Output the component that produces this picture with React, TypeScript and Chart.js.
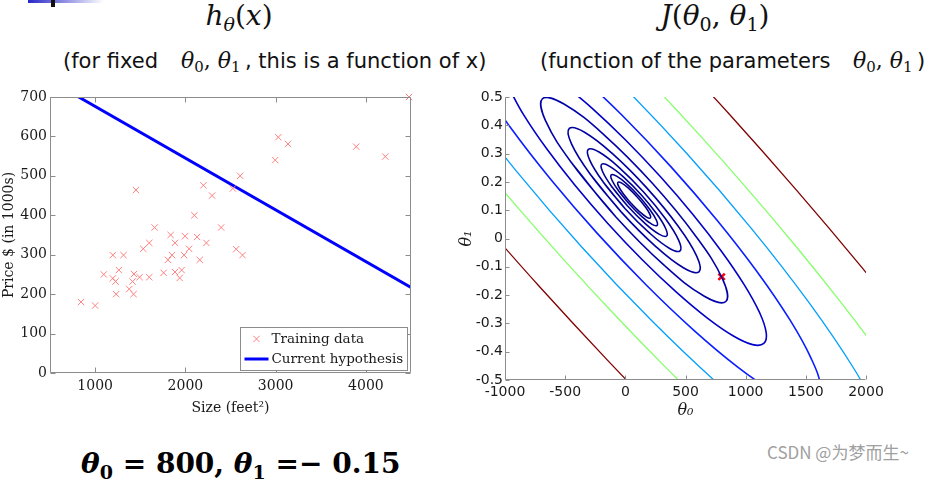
import React, { useEffect, useRef } from "react";
import { Chart, registerables } from "chart.js";

Chart.register(...registerables);

// ---------------- Left chart: training data + hypothesis ----------------
const HOUSE_SIZES = [844, 1000, 1096, 1196, 1196, 1226, 1233, 1263, 1315, 1378, 1415, 1430, 1426, 1452, 1493, 1533, 1600, 1600, 1659, 1759, 1807, 1837, 1852, 1885, 1885, 1937, 1959, 1985, 1996, 2041, 2100, 2130, 2159, 2200, 2233, 2296, 2396, 2526, 2563, 2607, 2633, 2996, 3030, 3137, 3893, 4215, 4478];
const HOUSE_PRICES = [180, 171, 250, 299, 240, 232, 200, 261, 299, 213, 232, 251, 200, 464, 243, 315, 330, 243, 369, 254, 287, 350, 299, 330, 256, 241, 261, 299, 347, 315, 400, 345, 287, 476, 330, 450, 369, 468, 314, 500, 299, 540, 598, 581, 574, 549, 700];
const HYPOTHESIS_X = [818, 4500];
const HYPOTHESIS_Y = [700, 217];
const SIZE_TICKS = [1000, 2000, 3000, 4000];
const PRICE_TICKS = [0, 100, 200, 300, 400, 500, 600, 700];

// ---------------- Right chart: contours of J(theta0, theta1) ----------------
const THETA0_TICKS = [-1000, -500, 0, 500, 1000, 1500, 2000];
const THETA1_TICKS = [-0.5, -0.4, -0.3, -0.2, -0.1, 0, 0.1, 0.2, 0.3, 0.4, 0.5];
const CURRENT_THETA = [800, -0.135];

type P = [number, number];
// closed ellipses (innermost = 6)
const ELLIPSE_1: P[] = [[-80.0, 0.0768], [-440.5, 0.2638], [-663.4, 0.4164], [-688.8, 0.4938], [-510.1, 0.4752], [-175.0, 0.3656], [226.6, 0.1944], [587.1, 0.0074], [810.0, -0.1452], [835.4, -0.2226], [656.6, -0.2040], [321.6, -0.0944]];
const ELLIPSE_2: P[] = [[-34.9, 0.0941], [-289.8, 0.2263], [-447.4, 0.3342], [-465.5, 0.3888], [-339.2, 0.3756], [-102.4, 0.2981], [181.5, 0.1771], [436.4, 0.0449], [594.0, -0.0630], [612.1, -0.1176], [485.8, -0.1044], [249.0, -0.0269]];
const ELLIPSE_3: P[] = [[-3.4, 0.1062], [-183.8, 0.1998], [-295.2, 0.2761], [-308.0, 0.3148], [-218.6, 0.3055], [-51.0, 0.2507], [150.0, 0.1650], [330.4, 0.0715], [441.8, -0.0049], [454.6, -0.0436], [365.2, -0.0343], [197.6, 0.0206]];
const ELLIPSE_4: P[] = [[18.9, 0.1147], [-108.7, 0.1809], [-187.5, 0.2349], [-196.4, 0.2623], [-133.1, 0.2557], [-14.4, 0.2170], [127.7, 0.1565], [255.3, 0.0903], [334.1, 0.0363], [343.0, 0.0089], [279.7, 0.0155], [161.0, 0.0542]];
const ELLIPSE_5: P[] = [[35.0, 0.1209], [-55.1, 0.1676], [-110.8, 0.2057], [-117.1, 0.2251], [-72.4, 0.2204], [11.3, 0.1931], [111.6, 0.1503], [201.7, 0.1036], [257.4, 0.0655], [263.7, 0.0461], [219.0, 0.0508], [135.3, 0.0781]];
const ELLIPSE_6: P[] = [[46.1, 0.1252], [-17.6, 0.1582], [-56.8, 0.1852], [-61.2, 0.1988], [-29.6, 0.1956], [29.7, 0.1763], [100.5, 0.1460], [164.2, 0.1130], [203.4, 0.0861], [207.8, 0.0724], [176.2, 0.0756], [117.0, 0.0950]];
// clipped contours
const LEVEL_7: P[] = [[-968.3, 0.5325], [-842.0, 0.4349], [-653.4, 0.3168], [-415.2, 0.1863], [-143.7, 0.0524], [142.6, -0.0759], [424.2, -0.1896], [681.8, -0.2813], [897.9, -0.3445], [1057.9, -0.3750], [1150.8, -0.3708], [1170.3, -0.3320], [1114.9, -0.2613], [988.6, -0.1637], [799.9, -0.0456], [561.8, 0.0849], [290.3, 0.2188], [4.0, 0.3471], [-277.5, 0.4608], [-535.2, 0.5525]];
const LEVEL_8: P[] = [[-1221.4, 0.5590], [-954.4, 0.3920], [-617.4, 0.2074], [-233.4, 0.0180], [171.6, -0.1634], [569.8, -0.3244], [934.2, -0.4542], [1239.9, -0.5436], [1466.1, -0.5868], [1597.5, -0.5808], [1624.9, -0.5260], [1546.7, -0.4260], [1368.0, -0.2878], [1101.0, -0.1208], [764.0, 0.0638], [380.0, 0.2532], [-25.0, 0.4346], [-423.2, 0.5956]];
const CYAN_LOWER: P[] = [[-1380.1, 0.4980], [-903.6, 0.2370], [-360.7, -0.0308], [211.8, -0.2872], [774.9, -0.5150], [1290.2, -0.6983]];
const CYAN_UPPER: P[] = [[-628.3, 0.7862], [-65.2, 0.5584], [507.3, 0.3020], [1050.2, 0.0342], [1526.7, -0.2268], [1904.0, -0.4629], [2156.5, -0.6584]];
const GREEN_LOWER: P[] = [[-1618.8, 0.4825], [-1265.0, 0.2958], [-888.4, 0.1065], [-495.5, -0.0824], [-92.8, -0.2675], [312.8, -0.4458], [714.4, -0.6141]];
const GREEN_UPPER: P[] = [[-166.2, 0.7170], [239.4, 0.5387], [642.1, 0.3536], [1035.0, 0.1647], [1411.6, -0.0246], [1765.4, -0.2113], [2090.1, -0.3920]];
const RED_LOWER: P[] = [[-1273.8, 0.0992], [-718.1, -0.1678], [-148.8, -0.4296], [424.3, -0.6818]];
const RED_UPPER: P[] = [[295.4, 0.7008], [864.7, 0.4390], [1420.4, 0.1720], [1953.1, -0.0956], [2453.9, -0.3594]];

const SERIF = '"DejaVu Serif", serif';
const SANS = '"DejaVu Sans", sans-serif';
const AXIS_GRAY = "#8c8c8c";

function framePlugin(fullBox: boolean, len: number) {
  return {
    id: "frameTicks",
    afterDatasetsDraw(chart: any) {
      const { ctx, chartArea } = chart;
      const xs = chart.scales.x;
      const ys = chart.scales.y;
      const l = Math.round(chartArea.left) + 0.5;
      const r = Math.round(chartArea.right) - 0.5;
      const t = Math.round(chartArea.top) + 0.5;
      const b = Math.round(chartArea.bottom) - 0.5;
      ctx.save();
      ctx.strokeStyle = AXIS_GRAY;
      ctx.lineWidth = 1;
      ctx.beginPath();
      ctx.moveTo(l, t);
      ctx.lineTo(l, b);
      ctx.lineTo(r, b);
      if (fullBox) {
        ctx.lineTo(r, t);
        ctx.lineTo(l, t);
      }
      xs.ticks.forEach((tk: any) => {
        const px = Math.round(xs.getPixelForValue(tk.value)) + 0.5;
        ctx.moveTo(px, b);
        ctx.lineTo(px, b - len);
        if (fullBox) {
          ctx.moveTo(px, t);
          ctx.lineTo(px, t + len);
        }
      });
      ys.ticks.forEach((tk: any) => {
        const py = Math.round(ys.getPixelForValue(tk.value)) + 0.5;
        ctx.moveTo(l, py);
        ctx.lineTo(l + len, py);
        if (fullBox) {
          ctx.moveTo(r, py);
          ctx.lineTo(r - len, py);
        }
      });
      ctx.stroke();
      ctx.restore();
    },
  };
}

const legendBoxPlugin = {
  id: "legendBox",
  afterDraw(chart: any) {
    const { ctx, chartArea } = chart;
    const ds = chart.data.datasets;
    ctx.save();
    ctx.font = `13.5px ${SERIF}`;
    const tw = Math.max(...ds.map((d: any) => ctx.measureText(d.label).width));
    const w = Math.round(31 + tw + 4);
    const h = 43;
    const x0 = Math.round(chartArea.right - 4 - w) + 0.5;
    const y0 = Math.round(chartArea.bottom - 3 - h) + 0.5;
    ctx.fillStyle = "#ffffff";
    ctx.fillRect(x0, y0, w, h);
    ctx.strokeStyle = AXIS_GRAY;
    ctx.lineWidth = 1;
    ctx.strokeRect(x0, y0, w, h);
    const c1 = y0 + 11.5;
    const c2 = y0 + 31.5;
    const cx = x0 + 16;
    const r = 3.2;
    ctx.strokeStyle = ds[0].pointBorderColor;
    ctx.lineWidth = 1;
    ctx.beginPath();
    ctx.moveTo(cx - r, c1 - r);
    ctx.lineTo(cx + r, c1 + r);
    ctx.moveTo(cx + r, c1 - r);
    ctx.lineTo(cx - r, c1 + r);
    ctx.stroke();
    ctx.strokeStyle = ds[1].borderColor;
    ctx.lineWidth = ds[1].borderWidth;
    ctx.beginPath();
    ctx.moveTo(x0 + 4, c2);
    ctx.lineTo(x0 + 28, c2);
    ctx.stroke();
    ctx.fillStyle = "#1a1a1a";
    ctx.textBaseline = "middle";
    ctx.textAlign = "left";
    ctx.fillText(ds[0].label, x0 + 31, c1 + 0.5);
    ctx.fillText(ds[1].label, x0 + 31, c2 + 0.5);
    ctx.restore();
  },
};

const toXY = (pts: P[]) => pts.map(([x, y]) => ({ x, y }));
const closed = (pts: P[]) => toXY([...pts, pts[0], pts[1]]);

function contourSet(data: any[], color: string, width: number) {
  return {
    data,
    showLine: true,
    borderColor: color,
    borderWidth: width,
    pointRadius: 0,
    pointHoverRadius: 0,
    tension: 0.4,
    capBezierPoints: false,
    fill: false,
  };
}

function leftConfig(): any {
  return {
    type: "scatter",
    data: {
      datasets: [
        {
          label: "Training data",
          data: HOUSE_SIZES.map((x, i) => ({ x, y: HOUSE_PRICES[i] })),
          pointStyle: "crossRot",
          pointRadius: 4.5,
          pointBorderColor: "#ff8080",
          pointBackgroundColor: "rgba(0,0,0,0)",
          pointBorderWidth: 1,
          showLine: false,
          clip: false,
        },
        {
          label: "Current hypothesis",
          data: HYPOTHESIS_X.map((x, i) => ({ x, y: HYPOTHESIS_Y[i] })),
          showLine: true,
          borderColor: "#0000ff",
          borderWidth: 3,
          pointRadius: 0,
          pointHoverRadius: 0,
        },
      ],
    },
    options: {
      animation: false,
      responsive: false,
      events: [],
      layout: { padding: { top: 12, right: 9, left: 0, bottom: 0 } },
      plugins: { legend: { display: false }, tooltip: { enabled: false } },
      scales: {
        x: {
          type: "linear",
          min: 500,
          max: 4500,
          afterBuildTicks: (s: any) => {
            s.ticks = SIZE_TICKS.map((v) => ({ value: v }));
          },
          afterFit: (s: any) => {
            s.height = 52;
          },
          grid: { display: false, drawTicks: false },
          border: { display: false },
          ticks: {
            callback: (v: any) => String(v),
            font: { family: SERIF, size: 14 },
            color: "#1a1a1a",
            padding: 5,
            maxRotation: 0,
            autoSkip: false,
          },
          title: {
            display: true,
            text: "Size (feet²)",
            font: { family: SERIF, size: 14 },
            color: "#1a1a1a",
            padding: { top: 0, bottom: 8 },
          },
        },
        y: {
          type: "linear",
          min: 0,
          max: 700,
          afterBuildTicks: (s: any) => {
            s.ticks = PRICE_TICKS.map((v) => ({ value: v }));
          },
          afterFit: (s: any) => {
            s.width = 50;
          },
          grid: { display: false, drawTicks: false },
          border: { display: false },
          ticks: {
            callback: (v: any) => String(v),
            font: { family: SERIF, size: 14 },
            color: "#1a1a1a",
            padding: 3,
            autoSkip: false,
          },
          title: {
            display: true,
            text: "Price $ (in 1000s)",
            font: { family: SERIF, size: 14 },
            color: "#1a1a1a",
            padding: { top: 1, bottom: 0 },
          },
        },
      },
    },
    plugins: [framePlugin(true, 5), legendBoxPlugin],
  };
}

function rightConfig(): any {
  const navy = ["#0000a8", "#0000a2", "#00009c", "#000096", "#000090", "#00008a"];
  const ellipses = [ELLIPSE_1, ELLIPSE_2, ELLIPSE_3, ELLIPSE_4, ELLIPSE_5, ELLIPSE_6];
  return {
    type: "scatter",
    data: {
      datasets: [
        contourSet(toXY(RED_LOWER), "#800000", 1.3),
        contourSet(toXY(RED_UPPER), "#800000", 1.3),
        contourSet(toXY(GREEN_LOWER), "#86ff6a", 1.3),
        contourSet(toXY(GREEN_UPPER), "#86ff6a", 1.3),
        contourSet(toXY(CYAN_LOWER), "#009fff", 1.3),
        contourSet(toXY(CYAN_UPPER), "#009fff", 1.3),
        contourSet(toXY(LEVEL_8), "#0a1eff", 1.6),
        contourSet(toXY(LEVEL_7), "#0000c8", 1.6),
        ...ellipses.map((e, i) => contourSet(closed(e), navy[i], 1.6)),
        {
          data: [{ x: CURRENT_THETA[0], y: CURRENT_THETA[1] }],
          pointStyle: "crossRot",
          pointRadius: 4.5,
          pointBorderColor: "#ff0000",
          pointBorderWidth: 2.5,
          pointBackgroundColor: "rgba(0,0,0,0)",
          showLine: false,
        },
      ],
    },
    options: {
      animation: false,
      responsive: false,
      events: [],
      layout: { padding: { top: 12, right: 44, left: 0, bottom: 0 } },
      plugins: { legend: { display: false }, tooltip: { enabled: false } },
      scales: {
        x: {
          type: "linear",
          min: -1000,
          max: 2000,
          afterBuildTicks: (s: any) => {
            s.ticks = THETA0_TICKS.map((v) => ({ value: v }));
          },
          afterFit: (s: any) => {
            s.height = 45;
          },
          grid: { display: false, drawTicks: false },
          border: { display: false },
          ticks: {
            callback: (v: any) => String(v),
            font: { family: SANS, size: 14 },
            color: "#1a1a1a",
            padding: 4,
            maxRotation: 0,
            autoSkip: false,
          },
          title: {
            display: true,
            text: "θ₀",
            font: { family: SERIF, size: 16, style: "italic" },
            color: "#1a1a1a",
            padding: { top: 0, bottom: 5 },
          },
        },
        y: {
          type: "linear",
          min: -0.5,
          max: 0.5,
          afterBuildTicks: (s: any) => {
            s.ticks = THETA1_TICKS.map((v) => ({ value: v }));
          },
          afterFit: (s: any) => {
            s.width = 65;
          },
          grid: { display: false, drawTicks: false },
          border: { display: false },
          ticks: {
            callback: (v: any) => String(Math.round(v * 10) / 10),
            font: { family: SANS, size: 14 },
            color: "#1a1a1a",
            padding: 2,
            autoSkip: false,
          },
          title: {
            display: true,
            text: "θ₁",
            font: { family: SERIF, size: 16, style: "italic" },
            color: "#1a1a1a",
            padding: { top: 17, bottom: 0 },
          },
        },
      },
    },
    plugins: [framePlugin(false, 4)],
  };
}

const subStyle: React.CSSProperties = {
  fontSize: "0.68em",
  fontStyle: "normal",
  verticalAlign: "-0.3em",
  lineHeight: 0,
};

function Th({ n }: { n: string }) {
  return (
    <>
      <i>θ</i>
      <span style={subStyle}>{n}</span>
    </>
  );
}

export default function App() {
  const leftRef = useRef<HTMLCanvasElement>(null);
  const rightRef = useRef<HTMLCanvasElement>(null);

  useEffect(() => {
    const left = new Chart(leftRef.current as HTMLCanvasElement, leftConfig());
    const right = new Chart(rightRef.current as HTMLCanvasElement, rightConfig());
    return () => {
      left.destroy();
      right.destroy();
    };
  }, []);

  const abs = (s: React.CSSProperties): React.CSSProperties => ({ position: "absolute", whiteSpace: "nowrap", ...s });
  const sub21: React.CSSProperties = { fontFamily: SANS, fontSize: 21, lineHeight: "26px", color: "#111", top: 48 };
  const math22: React.CSSProperties = { fontFamily: SERIF, fontSize: 22, lineHeight: "26px", color: "#111", top: 48 };

  return (
    <div style={{ position: "absolute", left: 0, top: 0, width: 939, height: 497, background: "#fff", overflow: "hidden" }}>
      {/* slide decoration at top-left */}
      <div style={abs({ left: 28, top: 0, width: 76, height: 3, background: "linear-gradient(to right, #2727c8, #ffffff)" })} />
      <div style={abs({ left: 51, top: 0, width: 4, height: 7, background: "#111" })} />

      <div style={abs({ left: 139, width: 200, top: -2, textAlign: "center", fontFamily: SERIF, fontSize: 28, lineHeight: "36px", color: "#111" })}>
        <i>h</i>
        <span style={{ ...subStyle, fontStyle: "italic" }}>θ</span>(<i>x</i>)
      </div>
      <div style={abs({ left: 565, width: 300, top: -2, textAlign: "center", fontFamily: SERIF, fontSize: 28, lineHeight: "36px", color: "#111" })}>
        <i>J</i>(<Th n="0" />, <Th n="1" />)
      </div>

      <div style={abs({ ...sub21, left: 63 })}>(for fixed</div>
      <div style={abs({ ...math22, left: 181 })}>
        <Th n="0" />, <Th n="1" />
      </div>
      <div style={abs({ ...sub21, left: 245 })}>, this is a function of x)</div>

      <div style={abs({ ...sub21, left: 540 })}>(function of the parameters</div>
      <div style={abs({ ...math22, left: 853 })}>
        <Th n="0" />, <Th n="1" />
      </div>
      <div style={abs({ ...sub21, left: 917 })}>)</div>

      <canvas ref={leftRef} width={420} height={340} style={{ position: "absolute", left: 0, top: 85 }} />
      <canvas ref={rightRef} width={470} height={340} style={{ position: "absolute", left: 440, top: 85 }} />

      <div style={abs({ left: 81, top: 448, fontFamily: SERIF, fontWeight: "bold", fontSize: 28, lineHeight: "32px", color: "#000" })}>
        <Th n="0" /> = 800, <Th n="1" /> =− 0.15
      </div>
      <div style={abs({ left: 767, top: 442, fontFamily: '"Noto Sans CJK SC", "DejaVu Sans", sans-serif', fontSize: 17, lineHeight: "20px", color: "#a0a0a0" })}>
        CSDN @为梦而生~
      </div>
    </div>
  );
}
